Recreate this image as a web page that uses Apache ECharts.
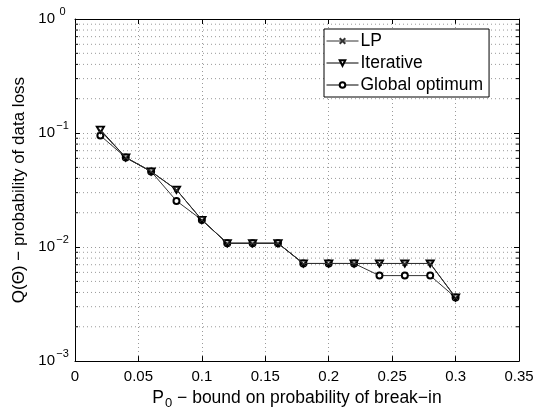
<!DOCTYPE html>
<html>
<head>
<meta charset="utf-8">
<script src="https://cdn.jsdelivr.net/npm/echarts@6/dist/echarts.min.js"></script>
<style>html,body{margin:0;padding:0;background:#fff;}#c{width:551px;height:415px;}</style>
</head>
<body>
<div id="c"></div>
<script>
const xValues = [0.02, 0.04, 0.06, 0.08, 0.10, 0.12, 0.14, 0.16, 0.18, 0.20, 0.22, 0.24, 0.26, 0.28, 0.30];
const lpValues = [0.105, 0.061, 0.046, 0.0318, 0.0173, 0.0108, 0.0108, 0.0108, 0.00718, 0.00718, 0.00718, 0.00718, 0.00718, 0.00718, 0.00361];
const iterativeValues = [0.107, 0.061, 0.046, 0.0318, 0.0173, 0.0108, 0.0108, 0.0108, 0.00718, 0.00718, 0.00718, 0.00718, 0.00718, 0.00718, 0.00361];
const globalValues = [0.095, 0.061, 0.046, 0.0254, 0.0173, 0.0108, 0.0108, 0.0108, 0.00718, 0.00718, 0.00718, 0.00562, 0.00562, 0.00562, 0.00361];
const seriesNames = ['LP', 'Iterative', 'Global optimum'];
const xTicks = [0, 0.05, 0.1, 0.15, 0.2, 0.25, 0.3, 0.35];
const yDecades = [0.001, 0.01, 0.1, 1];
const minorMultipliers = [2, 3, 4, 5, 6, 7, 8, 9];

const minorValues = [];
for (let i = 0; i < yDecades.length - 1; i++) {
  minorMultipliers.forEach(m => minorValues.push(yDecades[i] * m));
}

const FONT = '"Liberation Sans", Arial, sans-serif';
const pair = (ys) => xValues.map((x, i) => [x, ys[i]]);

const chart = echarts.init(document.getElementById('c'), null, {renderer: 'canvas'});

const gridLine = {show: true, lineStyle: {color: '#9a9a9a', width: 1, type: [1, 3]}};

const option = {
  backgroundColor: '#fff',
  animation: false,
  grid: {left: 75, top: 19, right: 32, bottom: 48, containLabel: false},
  xAxis: [{
    type: 'value', min: 0, max: 0.35, interval: 0.05,
    position: 'bottom',
    axisLine: {show: true, onZero: false, lineStyle: {color: '#000', width: 1}},
    axisTick: {show: true, inside: true, length: 5, lineStyle: {color: '#000'}},
    axisLabel: {color: '#000', fontFamily: FONT, fontSize: 15, margin: 8,
      formatter: v => String(Math.round(v * 100) / 100)},
    splitLine: gridLine,
    name: '{a|P}{sub|0}{a| \u2212 bound on probability of break\u2212in}',
    nameLocation: 'middle', nameGap: 22,
    nameTextStyle: {
      rich: {
        a: {fontFamily: FONT, fontSize: 17.5, color: '#000'},
        sub: {fontFamily: FONT, fontSize: 13, color: '#000', padding: [11, 0, 0, 1]}
      }
    }
  }, {
    type: 'value', min: 0, max: 0.35, interval: 0.05,
    position: 'top',
    axisLine: {show: true, onZero: false, lineStyle: {color: '#000', width: 1}},
    axisTick: {show: true, inside: true, length: 5, lineStyle: {color: '#000'}},
    axisLabel: {show: false},
    splitLine: {show: false}
  }],
  yAxis: [{
    type: 'log', logBase: 10, min: 0.001, max: 1,
    position: 'left',
    axisLine: {show: true, onZero: false, lineStyle: {color: '#000', width: 1}},
    axisTick: {show: true, inside: true, length: 5, lineStyle: {color: '#000'}},
    axisLabel: {
      color: '#000', margin: 5,
      formatter: v => {
        const e = Math.round(Math.log10(v));
        return '{b|10}{s|' + (e < 0 ? '\u2212' + (-e) : String(e)) + '}';
      },
      rich: {
        b: {fontFamily: FONT, fontSize: 15, color: '#000'},
        s: {fontFamily: FONT, fontSize: 11, color: '#000', width: 15, align: 'left', padding: [0, 0, 14, 0]}
      }
    },
    splitLine: gridLine,
    name: 'Q(\u0398) \u2212 probability of data loss',
    nameLocation: 'middle', nameRotate: 90, nameGap: 41,
    nameTextStyle: {fontFamily: FONT, fontSize: 17, color: '#000'}
  }, {
    type: 'log', logBase: 10, min: 0.001, max: 1,
    position: 'right',
    axisLine: {show: true, onZero: false, lineStyle: {color: '#000', width: 1}},
    axisTick: {show: true, inside: true, length: 5, lineStyle: {color: '#000'}},
    axisLabel: {show: false},
    splitLine: {show: false}
  }],
  legend: {
    data: seriesNames,
    orient: 'vertical',
    left: 324, top: 29,
    itemWidth: 32, itemHeight: 7, itemGap: 4,
    padding: [3, 6, 3, 2],
    backgroundColor: '#fff',
    borderColor: '#000', borderWidth: 1, borderRadius: 0,
    lineStyle: {width: 1},
    textStyle: {fontFamily: FONT, fontSize: 17.5, color: '#000', padding: [0, 0, 0, -3]}
  },
  series: [
    {
      type: 'custom', silent: true, z: 1,
      xAxisIndex: 0, yAxisIndex: 0,
      data: minorValues.map(v => [0, v]),
      renderItem: (params, api) => {
        const v = api.value(1);
        const p0 = api.coord([0, v]);
        const p1 = api.coord([0.35, v]);
        return {
          type: 'group',
          children: [
            {type: 'line', shape: {x1: p0[0], y1: p0[1], x2: p1[0], y2: p1[1]},
              style: {stroke: '#9a9a9a', lineWidth: 1, lineDash: [1, 3]}},
            {type: 'line', shape: {x1: p0[0], y1: p0[1], x2: p0[0] + 3, y2: p0[1]},
              style: {stroke: '#000', lineWidth: 1}},
            {type: 'line', shape: {x1: p1[0] - 3, y1: p1[1], x2: p1[0], y2: p1[1]},
              style: {stroke: '#000', lineWidth: 1}}
          ]
        };
      }
    },
    {
      name: 'LP', type: 'line', z: 4,
      data: pair(lpValues),
      symbol: 'path://M0,0L10,10M10,0L0,10', symbolSize: 5,
      lineStyle: {color: '#333', width: 1},
      itemStyle: {color: '#333', borderColor: '#333', borderWidth: 1}
    },
    {
      name: 'Iterative', type: 'line', z: 3,
      data: pair(iterativeValues),
      symbol: 'emptyTriangle', symbolRotate: 180, symbolSize: [7, 6],
      lineStyle: {color: '#000', width: 1},
      itemStyle: {color: '#000', borderWidth: 1}
    },
    {
      name: 'Global optimum', type: 'line', z: 2,
      data: pair(globalValues),
      symbol: 'emptyCircle', symbolSize: 6,
      lineStyle: {color: '#000', width: 0.8},
      itemStyle: {color: '#000', borderWidth: 1}
    }
  ]
};
chart.setOption(option);
</script>
</body>
</html>
